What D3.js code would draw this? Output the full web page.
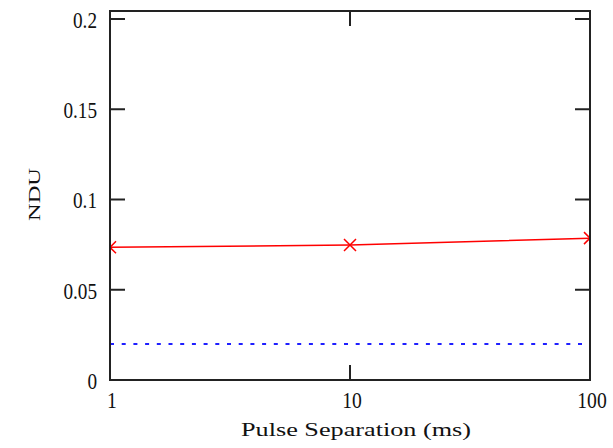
<!DOCTYPE html>
<html>
<head>
<meta charset="utf-8">
<script src="https://cdn.jsdelivr.net/npm/d3@7"></script>
<style>
  body { margin: 0; background: #fff; }
  text { font-family: "Liberation Serif", "Times New Roman", serif; fill: #111; }
</style>
</head>
<body>
<div id="chart"></div>
<script>
// data
var pulseSep = [1, 10, 100];
var nduRed = [0.0735, 0.0748, 0.0786];
var nduBlue = [0.02, 0.02, 0.02];
var xTicks = [1, 10, 100];
var yTicks = [0, 0.05, 0.1, 0.15, 0.2];
var yTickLabels = ["0", "0.05", "0.1", "0.15", "0.2"];

var svgWidth = 613;
var svgHeight = 448;

var margin = { top: 11, right: 23, bottom: 68, left: 110 };
var width = svgWidth - margin.left - margin.right;
var height = svgHeight - margin.top - margin.bottom;

var svg = d3.select("#chart")
  .append("svg")
  .attr("width", svgWidth)
  .attr("height", svgHeight);

var chartGroup = svg.append("g")
  .attr("transform", `translate(${margin.left}, ${margin.top})`);

var xScale = d3.scaleLog()
  .domain([1, 100])
  .range([0, width]);

var yScale = d3.scaleLinear()
  .domain([0, 0.20443])
  .range([height, 0]);

svg.append("defs").append("clipPath")
  .attr("id", "plotClip")
  .append("rect")
  .attr("width", width)
  .attr("height", height);

// tick marks pointing inward on all four sides
var tickLen = 15;
var tickGroup = chartGroup.append("g")
  .attr("stroke", "#222")
  .attr("stroke-width", 2);

yTicks.forEach(function(v) {
  tickGroup.append("line")
    .attr("x1", 0).attr("x2", tickLen)
    .attr("y1", yScale(v)).attr("y2", yScale(v));
  tickGroup.append("line")
    .attr("x1", width - tickLen).attr("x2", width)
    .attr("y1", yScale(v)).attr("y2", yScale(v));
});
xTicks.forEach(function(v) {
  tickGroup.append("line")
    .attr("x1", xScale(v)).attr("x2", xScale(v))
    .attr("y1", height).attr("y2", height - tickLen);
  tickGroup.append("line")
    .attr("x1", xScale(v)).attr("x2", xScale(v))
    .attr("y1", 0).attr("y2", tickLen);
});

// series
var plot = chartGroup.append("g").attr("clip-path", "url(#plotClip)");

var line = function(ys) {
  return d3.line()
    .x((d, i) => xScale(pulseSep[i]))
    .y(d => yScale(d))(ys);
};

plot.append("path")
  .attr("d", line(nduBlue))
  .attr("fill", "none")
  .attr("stroke", "#1f1fff")
  .attr("stroke-width", 2)
  .attr("stroke-dasharray", "4,7.7");

plot.append("path")
  .attr("d", line(nduRed))
  .attr("fill", "none")
  .attr("stroke", "#ff0000")
  .attr("stroke-width", 1.5);

var m = 6;
plot.selectAll(".xmark")
  .data(nduRed)
  .enter()
  .append("path")
  .attr("class", "xmark")
  .attr("transform", (d, i) => `translate(${xScale(pulseSep[i])}, ${yScale(d)})`)
  .attr("d", `M${-m},${-m}L${m},${m}M${-m},${m}L${m},${-m}`)
  .attr("stroke", "#ff0000")
  .attr("stroke-width", 1.5)
  .attr("fill", "none");

// frame
chartGroup.append("rect")
  .attr("width", width)
  .attr("height", height)
  .attr("fill", "none")
  .attr("stroke", "#222")
  .attr("stroke-width", 2);

// tick labels
chartGroup.selectAll(".ylab")
  .data(yTicks)
  .enter()
  .append("text")
  .attr("class", "ylab")
  .attr("transform", d => `translate(-13, ${yScale(d) + 9}) scale(0.8, 1)`)
  .attr("text-anchor", "end")
  .style("font-size", "24px")
  .text((d, i) => yTickLabels[i]);

chartGroup.selectAll(".xlab")
  .data(xTicks)
  .enter()
  .append("text")
  .attr("class", "xlab")
  .attr("transform", d => `translate(${xScale(d) + 2}, ${height + 28}) scale(0.82, 1)`)
  .attr("text-anchor", "middle")
  .style("font-size", "24px")
  .text(d => d);

// axis titles
svg.append("text")
  .attr("x", 241)
  .attr("y", 436)
  .attr("textLength", 230)
  .attr("lengthAdjust", "spacingAndGlyphs")
  .style("font-size", "18px")
  .text("Pulse Separation (ms)");

svg.append("text")
  .attr("transform", "translate(40, 221) rotate(-90)")
  .attr("textLength", 53)
  .attr("lengthAdjust", "spacingAndGlyphs")
  .style("font-size", "17px")
  .text("NDU");
</script>
</body>
</html>
